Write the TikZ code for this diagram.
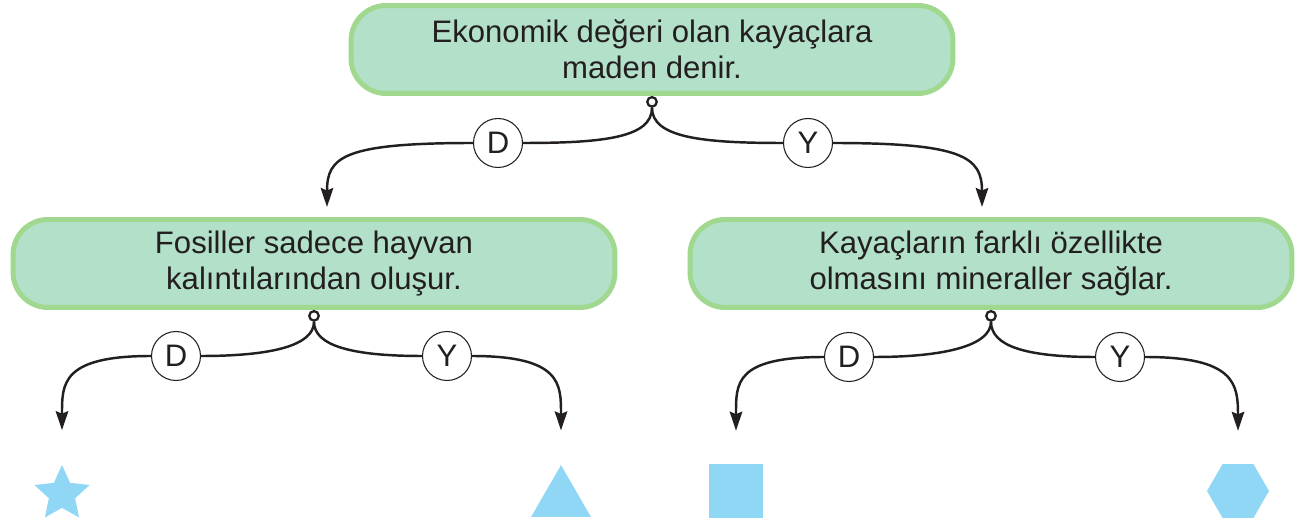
\documentclass[tikz,border=0pt]{standalone}
\usepackage{fontspec}
\setmainfont{Liberation Sans}
\usetikzlibrary{positioning,shapes.geometric,arrows.meta}

\definecolor{boxfill}{RGB}{178,224,201}
\definecolor{boxline}{RGB}{160,216,144}
\definecolor{ink}{RGB}{35,31,32}
\definecolor{shapeblue}{RGB}{143,215,245}

\tikzstyle{statement} = [rectangle, rounded corners=0.7cm, minimum width=12.04cm, minimum height=1.76cm, text centered, align=center, draw=boxline, fill=boxfill, line width=0.1cm]
\tikzstyle{answer} = [circle, minimum size=0.98cm, inner sep=0pt, draw=ink, fill=white, line width=0.6pt]
\tikzstyle{junction} = [circle, minimum size=0.19cm, inner sep=0pt, draw=ink, fill=white, line width=1.3pt]
\tikzstyle{branch} = [line width=1.4pt, draw=ink]
\tikzstyle{arrow} = [line width=1.4pt, draw=ink, -{Stealth[length=0.38cm, width=0.25cm, inset=0.05cm]}]
\tikzstyle{symbol} = [fill=shapeblue, inner sep=0pt]

\begin{document}
\begin{tikzpicture}[x=0.02cm, y=-0.02cm, font=\fontsize{17.7}{20.6}\selectfont, text=ink]

    \useasboundingbox (0,0) rectangle (1308,526);

    \node (mining) [statement] at (652,49.5) {Ekonomik değeri olan kayaçlara\\maden denir.};
    \node (fossil) [statement] at (314,263.5) {Fosiller sadece hayvan\\kalıntılarından oluşur.};
    \node (mineral) [statement] at (991,263.5) {Kayaçların farklı özellikte\\olmasını mineraller sağlar.};

    \node (jMining) [junction, below=0pt of mining] {};
    \node (jFossil) [junction, below=0pt of fossil] {};
    \node (jMineral) [junction, below=0pt of mineral] {};

    \node (dMining) [answer] at (498,143) {D};
    \node (yMining) [answer] at (808,143) {Y};
    \node (dFossil) [answer] at (176,356) {D};
    \node (yFossil) [answer] at (447,356) {Y};
    \node (dMineral) [answer] at (849,357) {D};
    \node (yMineral) [answer] at (1120,357) {Y};

    \node (star) [symbol, star, star points=5, star point ratio=2.1, minimum size=1.16cm] at (62,494) {};
    \node (triangle) [symbol, regular polygon, regular polygon sides=3, minimum size=1.38cm] at (561,499.6) {};
    \node (square) [symbol, rectangle, minimum size=1.08cm] at (736,491) {};
    \node (hexagon) [symbol, regular polygon, regular polygon sides=6, minimum size=1.24cm] at (1238,491) {};

    % first question
    \draw [branch] (jMining) to[out=-90, in=0, out distance=0.6cm, in distance=1.6cm] (dMining);
    \draw [branch] (jMining) to[out=-90, in=180, out distance=0.6cm, in distance=1.6cm] (yMining);
    \draw [arrow, shorten >=0.2cm] (dMining) to[out=180, in=90, out distance=2.6cm, in distance=1.2cm] ([xshift=0.26cm]fossil.north);
    \draw [arrow, shorten >=0.2cm] (yMining) to[out=0, in=90, out distance=2.6cm, in distance=1.2cm] ([xshift=-0.18cm]mineral.north);

    % second row
    \draw [branch] (jFossil) to[out=-90, in=0, out distance=0.48cm, in distance=1.4cm] (dFossil);
    \draw [branch] (jFossil) to[out=-90, in=180, out distance=0.48cm, in distance=1.4cm] (yFossil);
    \draw [arrow, shorten >=0.68cm] (dFossil) to[out=180, in=90, out distance=1.8cm, in distance=1.6cm] (star.north);
    \draw [arrow, shorten >=0.68cm] (yFossil) to[out=0, in=90, out distance=1.8cm, in distance=1.6cm] (triangle.north);

    \draw [branch] (jMineral) to[out=-90, in=0, out distance=0.48cm, in distance=1.4cm] (dMineral);
    \draw [branch] (jMineral) to[out=-90, in=180, out distance=0.48cm, in distance=1.4cm] (yMineral);
    \draw [arrow, shorten >=0.66cm] (dMineral) to[out=180, in=90, out distance=1.8cm, in distance=1.6cm] (square.north);
    \draw [arrow, shorten >=0.66cm] (yMineral) to[out=0, in=90, out distance=1.8cm, in distance=1.6cm] (hexagon.north);

\end{tikzpicture}
\end{document}
